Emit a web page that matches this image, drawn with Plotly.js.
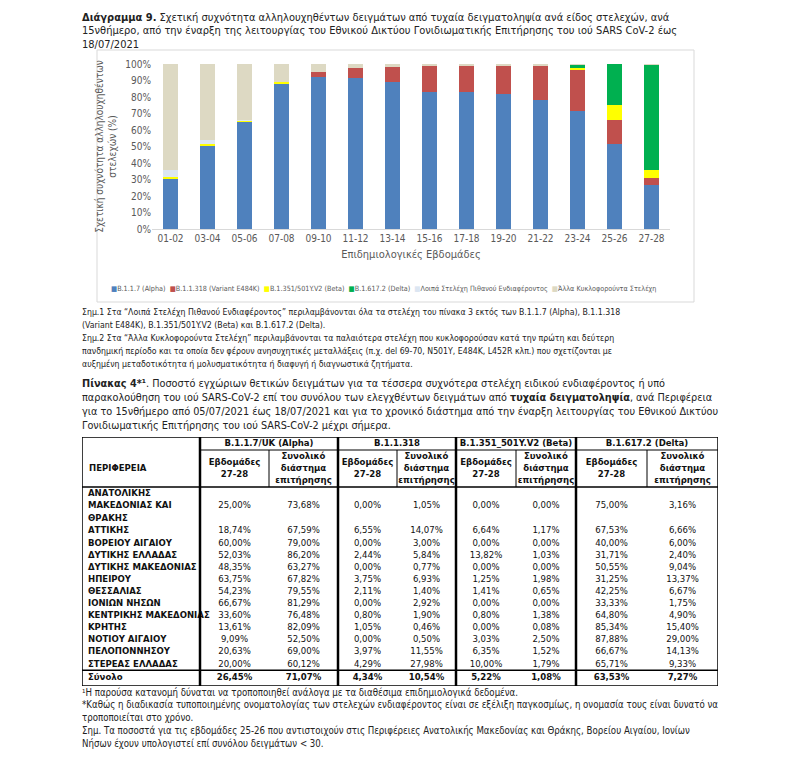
<!DOCTYPE html>
<html><head><meta charset="utf-8">
<script src="https://cdn.plot.ly/plotly-3.0.1.min.js"></script>
<style>html,body{margin:0;padding:0;background:#fff}#chart{width:800px;height:759px}</style>
</head><body><div id="chart"></div>
<script>
// ---------- chart data (Διάγραμμα 9) ----------
const weeks = ['01-02','03-04','05-06','07-08','09-10','11-12','13-14','15-16','17-18','19-20','21-22','23-24','25-26','27-28'];
const seriesNames = ['B.1.1.7 (Alpha)','B.1.1.318 (Variant E484K)','B.1.351/501Y.V2 (Beta)','B.1.617.2 (Delta)','Λοιπά Στελέχη Πιθανού Ενδιαφέροντος','Άλλα Κυκλοφορούντα Στελέχη'];
const alphaPct    = [30.6,50.4,65.0,87.6,91.9,91.3,89.3,82.8,83.2,81.6,78.1,71.5,51.4,26.45];
const e484kPct    = [0,0,0,0,3.4,6.5,9.1,16.2,15.6,17.4,20.9,24.9,14.6,4.34];
const betaPct     = [0.7,1.0,1.0,1.3,0,0,0,0,0,0,0,1.0,9.1,5.22];
const deltaPct    = [0,0,0,0,0,0,0,0,0,0,0,2.0,24.9,63.53];
const otherVoiPct = [4.3,2.5,0.3,0,0,0,0,0.3,0.3,0.3,0.3,0,0,0];
const otherCircPct= [64.4,46.1,33.7,11.1,4.7,2.2,1.6,0.7,0.9,0.7,0.7,0.6,0,0.46];

// ---------- table data (Πίνακας 4) ----------
const regions = ['ΑΝΑΤΟΛΙΚΗΣ<br>ΜΑΚΕΔΟΝΙΑΣ ΚΑΙ<br>ΘΡΑΚΗΣ','ΑΤΤΙΚΗΣ','ΒΟΡΕΙΟΥ ΑΙΓΑΙΟΥ','ΔΥΤΙΚΗΣ ΕΛΛΑΔΑΣ','ΔΥΤΙΚΗΣ ΜΑΚΕΔΟΝΙΑΣ','ΗΠΕΙΡΟΥ','ΘΕΣΣΑΛΙΑΣ','ΙΟΝΙΩΝ ΝΗΣΩΝ','ΚΕΝΤΡΙΚΗΣ ΜΑΚΕΔΟΝΙΑΣ','ΚΡΗΤΗΣ','ΝΟΤΙΟΥ ΑΙΓΑΙΟΥ','ΠΕΛΟΠΟΝΝΗΣΟΥ','ΣΤΕΡΕΑΣ ΕΛΛΑΔΑΣ','Σύνολο'];
const groupHeaders = ['B.1.1.7/UK (Alpha)','B.1.1.318','B.1.351_501Y.V2 (Beta)','B.1.617.2 (Delta)'];
const subHeaders = ['Εβδομάδες<br>27-28','Συνολικό<br>διάστημα<br>επιτήρησης'];
const regionHeader = 'ΠΕΡΙΦΕΡΕΙΑ';
const alphaWeeks  = [25.00,18.74,60.00,52.03,48.35,63.75,54.23,66.67,33.60,13.61,9.09,20.63,20.00,26.45];
const alphaTotal  = [73.68,67.59,79.00,86.20,63.27,67.82,79.55,81.29,76.48,82.09,52.50,69.00,60.12,71.07];
const e484kWeeks  = [0.00,6.55,0.00,2.44,0.00,3.75,2.11,0.00,0.80,1.05,0.00,3.97,4.29,4.34];
const e484kTotal  = [1.05,14.07,3.00,5.84,0.77,6.93,1.40,2.92,1.90,0.46,0.50,11.55,27.98,10.54];
const betaWeeks   = [0.00,6.64,0.00,13.82,0.00,1.25,1.41,0.00,0.80,0.00,3.03,6.35,10.00,5.22];
const betaTotal   = [0.00,1.17,0.00,1.03,0.00,1.98,0.65,0.00,1.38,0.08,2.50,1.52,1.79,1.08];
const deltaWeeks  = [75.00,67.53,40.00,31.71,50.55,31.25,42.25,33.33,64.80,85.34,87.88,66.67,65.71,63.53];
const deltaTotal  = [3.16,6.66,6.00,2.40,9.04,13.37,6.67,1.75,4.90,15.40,29.00,14.13,9.33,7.27];

// ---------- texts ----------
const titleLines = [
 '<b>Διάγραμμα 9.</b> Σχετική συχνότητα αλληλουχηθέντων δειγμάτων από τυχαία δειγματοληψία ανά είδος στελεχών, ανά',
 '15νθήμερο, από την έναρξη της λειτουργίας του Εθνικού Δικτύου Γονιδιωματικής Επιτήρησης του ιού SARS CoV-2 έως',
 '18/07/2021'];
const noteLines = [
 'Σημ.1 Στα “Λοιπά Στελέχη Πιθανού Ενδιαφέροντος” περιλαμβάνονται όλα τα στελέχη του πίνακα 3 εκτός των B.1.1.7 (Alpha), B.1.1.318',
 '(Variant E484K), B.1.351/501Y.V2 (Beta) και B.1.617.2 (Delta).',
 'Σημ.2 Στα “Άλλα Κυκλοφορούντα Στελέχη” περιλαμβάνονται τα παλαιότερα στελέχη που κυκλοφορούσαν κατά την πρώτη και δεύτερη',
 'πανδημική περίοδο και τα οποία δεν φέρουν ανησυχητικές μεταλλάξεις (π.χ. del 69-70, N501Y, E484K, L452R κλπ.) που σχετίζονται με',
 'αυξημένη μεταδοτικότητα ή μολυσματικότητα ή διαφυγή ή διαγνωστικά ζητήματα.'];
const tableTitleLines = [
 '<b>Πίνακας 4*¹</b>. Ποσοστό εγχώριων θετικών δειγμάτων για τα τέσσερα συχνότερα στελέχη ειδικού ενδιαφέροντος ή υπό',
 'παρακολούθηση του ιού SARS-CoV-2 επί του συνόλου των ελεγχθέντων δειγμάτων από <b>τυχαία δειγματοληψία</b>, ανά Περιφέρεια',
 'για το 15νθήμερο από 05/07/2021 έως 18/07/2021 και για το χρονικό διάστημα από την έναρξη λειτουργίας του Εθνικού Δικτύου',
 'Γονιδιωματικής Επιτήρησης του ιού SARS-CoV-2 μέχρι σήμερα.'];
const footLines = [
 '¹Η παρούσα κατανομή δύναται να τροποποιηθεί ανάλογα με τα διαθέσιμα επιδημιολογικά δεδομένα.',
 '*Καθώς η διαδικασία τυποποιημένης ονοματολογίας των στελεχών ενδιαφέροντος είναι σε εξέλιξη παγκοσμίως, η ονομασία τους είναι δυνατό να',
 'τροποποιείται στο χρόνο.',
 'Σημ. Τα ποσοστά για τις εβδομάδες 25-26 που αντιστοιχούν στις Περιφέρειες Ανατολικής Μακεδονίας και Θράκης, Βορείου Αιγαίου, Ιονίων',
 'Νήσων έχουν υπολογιστεί επί συνόλου δειγμάτων &lt; 30.'];

// ---------- styling / layout helpers ----------
const W = 800, H = 759;
const FONT = "'Liberation Sans Narrow', 'Arial Narrow', 'DejaVu Sans Condensed', sans-serif";
const colors = ['#4f81bd','#c0504d','#ffff00','#00b050','#dce6f2','#ddd9c3'];
const px = x => x / W;
const py = y => 1 - y / H;

const seriesValues = [alphaPct, e484kPct, betaPct, deltaPct, otherVoiPct, otherCircPct];
const traces = seriesValues.map((vals, i) => ({
  type: 'bar', x: weeks, y: vals, name: seriesNames[i],
  marker: {color: colors[i], line: {width: 0}},
  xaxis: 'x', yaxis: 'y', showlegend: false, hoverinfo: 'x+y+name'
}));

// ---------- table geometry (pixel-like units on hidden axes) ----------
const colEdges = [0,118,187,256,315,374,434,494,565,636];
const rowHeights = [13,37,38].concat(Array(12).fill(12.1)).concat([15.8]);
const rowEdges = [0];
rowHeights.forEach(h => rowEdges.push(rowEdges[rowEdges.length-1] + h));
const tableBottom = rowEdges[rowEdges.length-1];
const rowMid = r => (rowEdges[r] + rowEdges[r+1]) / 2;
const colMid = c => (colEdges[c] + colEdges[c+1]) / 2;
const fmt = v => v.toFixed(2).replace('.', ',') + '%';

const tx = [], ty = [], tt = [], tp = [];
function cell(x, y, t, pos) { tx.push(x); ty.push(y); tt.push(t); tp.push(pos); }
// header
groupHeaders.forEach((g, k) => cell((colEdges[1+2*k] + colEdges[3+2*k]) / 2, rowMid(0), '<b>' + g + '</b>', 'middle center'));
cell(colEdges[0] + 7, rowMid(1), '<b>' + regionHeader + '</b>', 'middle right');
for (let k = 0; k < 4; k++) {
  cell(colMid(1+2*k), rowMid(1), '<b>' + subHeaders[0] + '</b>', 'middle center');
  cell(colMid(2+2*k), rowMid(1), '<b>' + subHeaders[1] + '</b>', 'middle center');
}
// body
const valueCols = [alphaWeeks, alphaTotal, e484kWeeks, e484kTotal, betaWeeks, betaTotal, deltaWeeks, deltaTotal];
regions.forEach((reg, i) => {
  const r = i + 2;
  const isTotal = i === regions.length - 1;
  cell(colEdges[0] + 6, rowMid(r), '<b>' + reg + '</b>', 'middle right');
  valueCols.forEach((col, c) => {
    const s = fmt(col[i]);
    cell(colMid(c+1), rowMid(r), isTotal ? '<b>' + s + '</b>' : s, 'middle center');
  });
});
traces.push({
  type: 'scatter', mode: 'text', x: tx, y: ty, text: tt, textposition: tp,
  textfont: {family: FONT, size: 9.5, color: '#111'},
  xaxis: 'x2', yaxis: 'y2', showlegend: false, hoverinfo: 'skip', cliponaxis: false
});

// table lines
const shapes = [];
function seg(x0, y0, x1, y1, w) {
  shapes.push({type: 'line', xref: 'x2', yref: 'y2', x0, y0, x1, y1, line: {color: '#000', width: w}});
}
const TW = colEdges[colEdges.length-1];
shapes.push({type: 'rect', xref: 'x2', yref: 'y2', x0: 0, y0: 0, x1: TW, y1: tableBottom, line: {color: '#000', width: 1.5}});
[1,3,5,7].forEach(c => seg(colEdges[c], 0, colEdges[c], tableBottom, 2.5));
[2,4,6,8].forEach(c => seg(colEdges[c], rowEdges[1], colEdges[c], rowEdges[2], 1));
seg(colEdges[1], rowEdges[1], TW, rowEdges[1], 1);
seg(0, rowEdges[2], TW, rowEdges[2], 1.5);
seg(0, rowEdges[rowEdges.length-2], TW, rowEdges[rowEdges.length-2], 1.5);
// chart frame
shapes.push({type: 'rect', xref: 'paper', yref: 'paper', x0: px(97), x1: px(694), y0: py(302), y1: py(50), line: {color: '#d9d9d9', width: 1}, layer: 'below'});

// ---------- annotations ----------
const annotations = [];
function lines(arr, x, y0, dy, size, color) {
  arr.forEach((t, i) => annotations.push({
    xref: 'paper', yref: 'paper', x: px(x), y: py(y0 + i*dy), xanchor: 'left', yanchor: 'middle',
    text: t, showarrow: false, font: {family: FONT, size: size, color: color}
  }));
}
lines(titleLines, 80, 17, 14, 11, '#222');
lines(noteLines, 80, 312, 13, 8.7, '#222');
lines(tableTitleLines, 80, 383, 14, 10.8, '#222');
lines(footLines, 80, 692, 12.8, 9.6, '#222');
// legend row of the chart
const legendText = seriesNames.map((n, i) => '<span style="color:' + colors[i] + '">■</span>' + n).join('\u00a0\u00a0');
annotations.push({xref: 'paper', yref: 'paper', x: px(383), y: py(288), xanchor: 'center', yanchor: 'middle',
  text: legendText, showarrow: false, font: {family: FONT, size: 7.2, color: '#595959'}});

const layout = {
  width: W, height: H, margin: {l: 0, r: 0, t: 0, b: 0},
  paper_bgcolor: '#fff', plot_bgcolor: '#fff',
  barmode: 'stack', bargap: 0.595,
  font: {family: FONT, color: '#595959'},
  xaxis: {domain: [px(152), px(670)], type: 'category', showline: true, linecolor: '#d9d9d9', linewidth: 1,
          ticks: '', tickfont: {size: 10, color: '#595959'}, showgrid: false, zeroline: false, fixedrange: true,
          title: {text: 'Επιδημιολογικές Εβδομάδες', font: {size: 11, color: '#595959'}, standoff: 7}, automargin: false},
  yaxis: {domain: [py(229), py(64)], range: [0, 100], dtick: 10, ticksuffix: '%', showgrid: false, zeroline: false,
          showline: false, ticks: '', tickfont: {size: 10, color: '#595959'}, fixedrange: true,
          title: {text: 'Σχετική συχνότητα αλληλουχηθέντων<br>στελεχών (%)', font: {size: 10, color: '#595959'}, standoff: 6}, automargin: false},
  xaxis2: {domain: [px(82), px(82 + 636)], range: [0, 636], anchor: 'y2', visible: false, fixedrange: true},
  yaxis2: {domain: [py(437 + tableBottom), py(437)], range: [tableBottom, 0], anchor: 'x2', visible: false, fixedrange: true},
  shapes: shapes, annotations: annotations, showlegend: false
};
Plotly.newPlot('chart', traces, layout, {displayModeBar: false});
</script></body></html>
